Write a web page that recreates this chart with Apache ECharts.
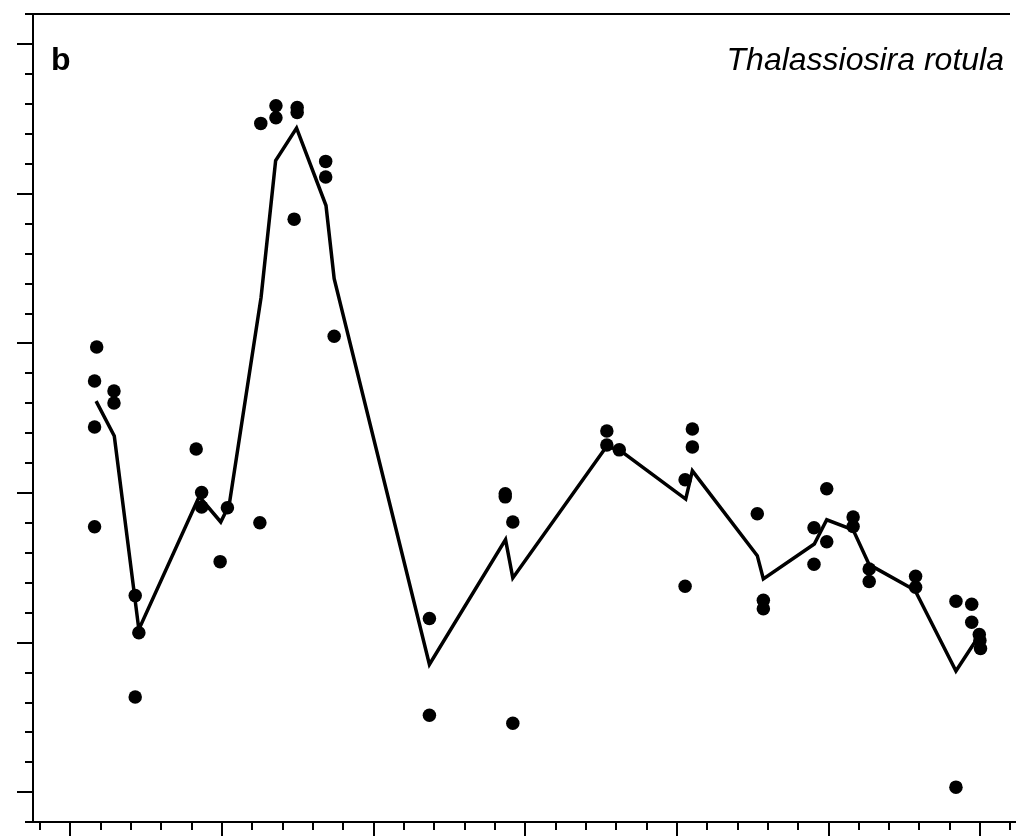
<!DOCTYPE html>
<html>
<head>
<meta charset="utf-8">
<title>Thalassiosira rotula</title>
<script src="https://cdn.jsdelivr.net/npm/echarts/dist/echarts.min.js"></script>
<style>
  html, body { margin: 0; padding: 0; background: #fff; }
  #chart { width: 1016px; height: 836px; }
</style>
</head>
<body>
<div id="chart"></div>
<script>
// Running mean (line) of the replicate measurements (dots).
const lineX = [0.86, 1.46, 2.27, 4.26, 4.97, 5.25, 6.30, 6.78, 7.47, 8.44, 8.71, 11.85,
  14.36, 14.60, 17.69, 18.11, 20.30, 20.52, 22.66, 22.86, 24.54, 24.95, 25.82, 26.35,
  27.86, 29.21, 29.89];
const lineY = [2.613, 2.380, 1.087, 1.975, 1.805, 1.920, 3.307, 4.220, 4.438, 3.920, 3.431, 0.853,
  1.687, 1.431, 2.309, 2.287, 1.958, 2.147, 1.580, 1.425, 1.658, 1.820, 1.753, 1.520,
  1.349, 0.809, 1.020];

const dotX = [0.88, 0.81, 0.81, 0.81, 1.45, 1.45, 2.15, 2.27, 2.15, 4.16, 4.34, 4.34,
  4.95, 5.19, 6.29, 6.26, 6.79, 6.79, 7.39, 7.49, 7.49, 8.43, 8.43, 8.71,
  11.85, 11.85, 14.35, 14.35, 14.60, 14.60, 17.70, 17.70, 18.11,
  20.28, 20.28, 20.52, 20.52, 22.66, 22.86, 22.86, 24.53, 24.53, 24.95, 24.95,
  25.82, 25.82, 26.35, 26.35, 27.88, 27.88, 29.21, 29.21, 29.73, 29.73,
  29.98, 30.00, 30.02];
const dotY = [2.975, 2.747, 2.440, 1.773, 2.680, 2.600, 1.313, 1.065, 0.635, 2.293, 2.002, 1.905,
  1.540, 1.900, 4.469, 1.800, 4.587, 4.507, 3.829, 4.575, 4.542, 4.215, 4.111, 3.047,
  1.160, 0.513, 1.993, 1.973, 1.805, 0.460, 2.413, 2.320, 2.287,
  2.087, 1.375, 2.427, 2.307, 1.860, 1.282, 1.225, 1.767, 1.522, 2.027, 1.673,
  1.838, 1.775, 1.491, 1.407, 1.442, 1.369, 1.275, 0.033, 1.255, 1.135,
  1.053, 1.013, 0.960];

// Axis ranges and tick positions (no tick labels are printed)
const xRange = [-1.22, 31.19];
const yRange = [-0.2, 5.2];
const xMinorTicks = [-1, 0, 1, 2, 3, 4, 5, 6, 7, 8, 9, 10, 11, 12, 13, 14, 15, 16, 17, 18, 19, 20,
  21, 22, 23, 24, 25, 26, 27, 28, 29, 30, 31];
const xMajorTicks = [0, 5, 10, 15, 20, 25, 30];
const yMinorTicks = [-0.2, 0, 0.2, 0.4, 0.6, 0.8, 1, 1.2, 1.4, 1.6, 1.8, 2, 2.2, 2.4, 2.6, 2.8,
  3, 3.2, 3.4, 3.6, 3.8, 4, 4.2, 4.4, 4.6, 4.8, 5, 5.2];
const yMajorTicks = [0, 1, 2, 3, 4, 5];

const panelLabel = 'b';
const speciesName = 'Thalassiosira rotula';

const black = '#000';
const font = '"Liberation Sans", Arial, sans-serif';

function zip(xs, ys) { return xs.map((x, i) => [x, ys[i]]); }

// Value axis without labels or grid lines; kept off the zero position of the other axis
function axis(extra) {
  return Object.assign({
    type: 'value',
    axisLabel: { show: false },
    splitLine: { show: false },
    axisLine: { show: false, onZero: false },
  }, extra);
}

const chart = echarts.init(document.getElementById('chart'), null, { renderer: 'canvas' });
chart.setOption({
  animation: false,
  backgroundColor: '#fff',
  grid: { left: 33, top: 14, right: 0, bottom: 14, containLabel: false },
  xAxis: [
    axis({
      min: xRange[0], max: xRange[1], position: 'bottom',
      axisLine: { show: true, onZero: false, lineStyle: { color: black, width: 2 } },
      axisTick: { show: true, customValues: xMinorTicks, length: 8, lineStyle: { color: black, width: 2 } }
    }),
    axis({
      min: xRange[0], max: xRange[1], position: 'bottom',
      axisTick: { show: true, customValues: xMajorTicks, length: 14, lineStyle: { color: black, width: 2 } }
    })
  ],
  yAxis: [
    axis({
      min: yRange[0], max: yRange[1], position: 'left',
      axisLine: { show: true, onZero: false, lineStyle: { color: black, width: 2 } },
      axisTick: { show: true, customValues: yMinorTicks, length: 8, lineStyle: { color: black, width: 2 } }
    }),
    axis({
      min: yRange[0], max: yRange[1], position: 'left',
      axisTick: { show: true, customValues: yMajorTicks, length: 16, lineStyle: { color: black, width: 2 } }
    })
  ],
  series: [
    {
      type: 'line',
      data: zip(lineX, lineY),
      xAxisIndex: 0, yAxisIndex: 0,
      symbol: 'none',
      lineStyle: { color: black, width: 3.5, join: 'miter' },
      z: 2
    },
    {
      type: 'scatter',
      data: zip(dotX, dotY),
      xAxisIndex: 0, yAxisIndex: 0,
      symbol: 'circle',
      symbolSize: 13.5,
      itemStyle: { color: black, opacity: 1 },
      z: 3
    }
  ],
  graphic: [
    // upper frame edge
    { type: 'line', shape: { x1: 33, y1: 14, x2: 1010, y2: 14 }, style: { stroke: black, lineWidth: 2 } },
    {
      type: 'text',
      style: { text: panelLabel, x: 51, y: 61, font: 'bold 32px ' + font, fill: black,
        align: 'left', verticalAlign: 'middle' }
    },
    {
      type: 'text',
      style: { text: speciesName, x: 1004, y: 61, font: 'italic 32px ' + font, fill: black,
        align: 'right', verticalAlign: 'middle' }
    }
  ]
});
</script>
</body>
</html>
